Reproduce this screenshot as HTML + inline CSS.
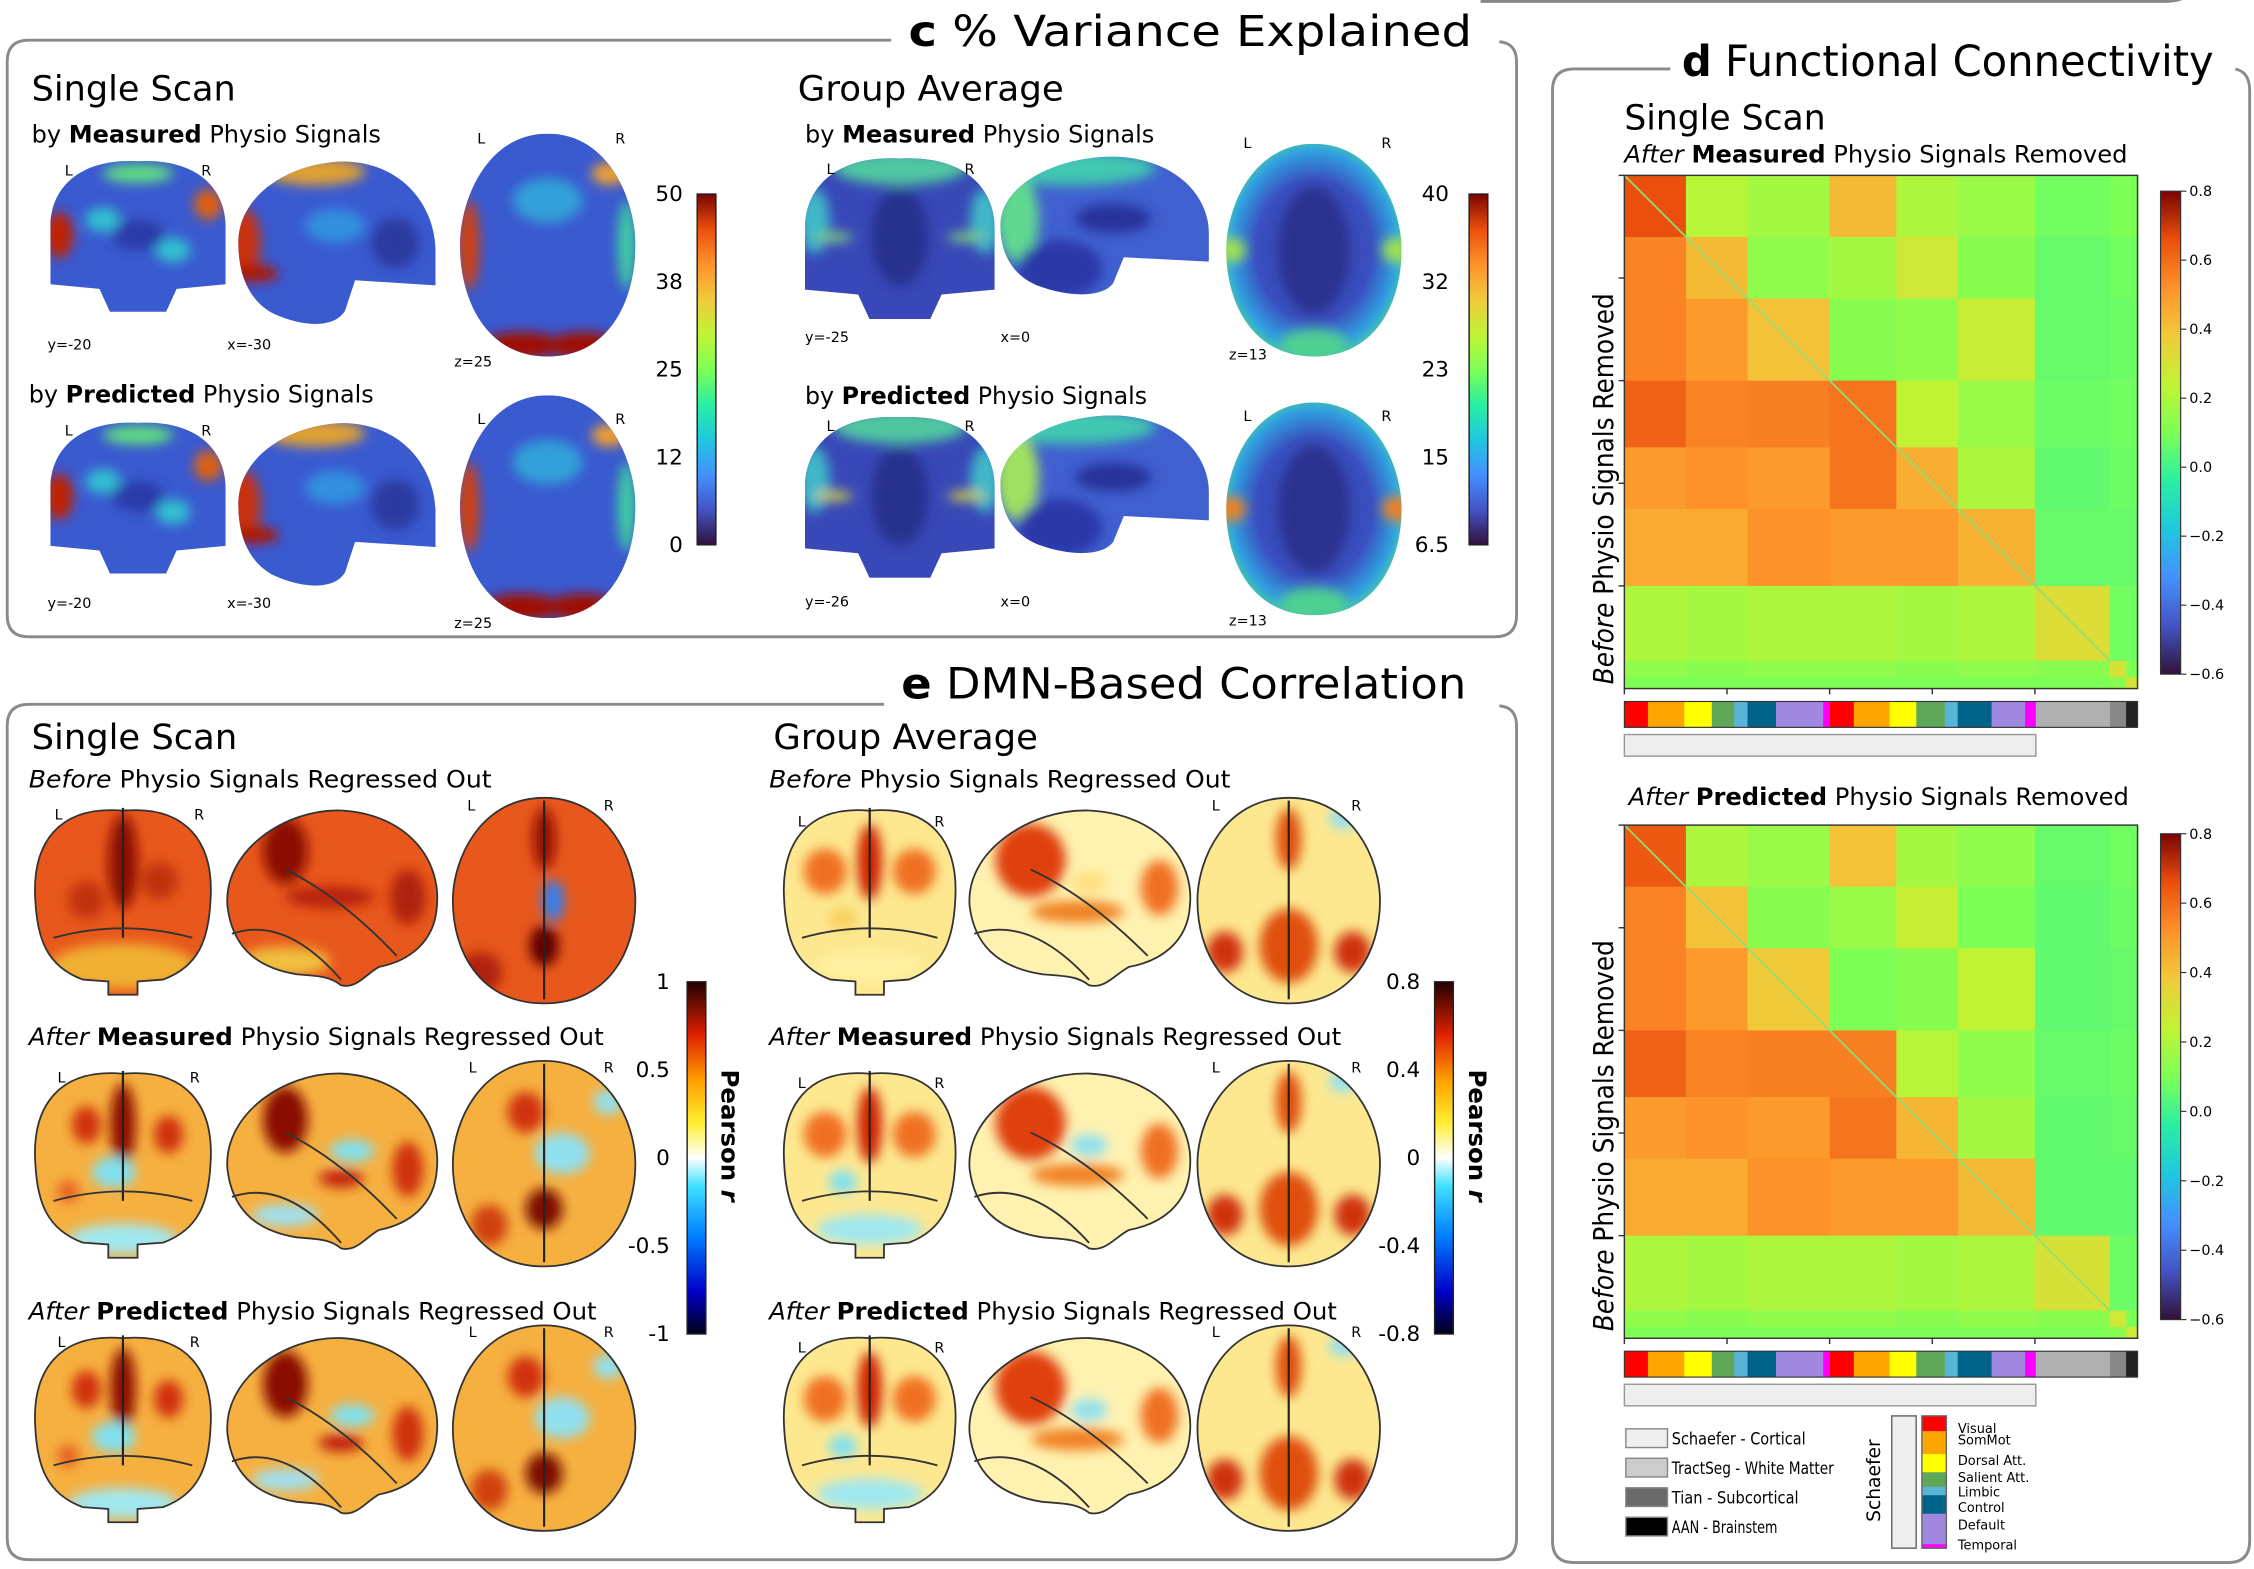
<!DOCTYPE html>
<html><head><meta charset="utf-8">
<style>
html,body{margin:0;padding:0;background:#fff;}
svg{display:block;}
text{font-family:"DejaVu Sans","Liberation Sans",sans-serif;fill:#000;}
</style></head>
<body>
<svg id="fig" xmlns="http://www.w3.org/2000/svg" width="2254" height="1569" viewBox="0 0 1568 1091.5">
<defs>
  <linearGradient id="turbo" x1="0" y1="1" x2="0" y2="0">
    <stop offset="0" stop-color="#30123b"/><stop offset="0.1" stop-color="#4454c4"/><stop offset="0.2" stop-color="#4490fe"/>
    <stop offset="0.3" stop-color="#1fc8de"/><stop offset="0.4" stop-color="#29efa2"/><stop offset="0.5" stop-color="#7eff55"/>
    <stop offset="0.6" stop-color="#c1f334"/><stop offset="0.7" stop-color="#f1ca3a"/><stop offset="0.8" stop-color="#fe922a"/>
    <stop offset="0.9" stop-color="#ea4f0d"/><stop offset="1" stop-color="#7a0403"/>
  </linearGradient>
  <linearGradient id="coldhot" x1="0" y1="1" x2="0" y2="0">
    <stop offset="0" stop-color="#000018"/><stop offset="0.12" stop-color="#0000c8"/><stop offset="0.28" stop-color="#0080ff"/>
    <stop offset="0.42" stop-color="#40e0ff"/><stop offset="0.5" stop-color="#ffffff"/><stop offset="0.6" stop-color="#ffee30"/>
    <stop offset="0.72" stop-color="#ffa000"/><stop offset="0.85" stop-color="#e02000"/><stop offset="1" stop-color="#200000"/>
  </linearGradient>
  <radialGradient id="grpavg" cx="0.5" cy="0.5" r="0.55">
    <stop offset="0" stop-color="#3340a8"/><stop offset="0.6" stop-color="#3a50c0"/><stop offset="0.85" stop-color="#30a0e0"/><stop offset="1" stop-color="#50d890"/>
  </radialGradient>
  <filter id="blur" x="-20%" y="-20%" width="140%" height="140%"><feGaussianBlur stdDeviation="4"/></filter>
</defs>

<path d="M1030 1 L1505 1 Q1520 1 1522 -5" fill="none" stroke="#888" stroke-width="2"/>

<path d="M620 28 L20 28 Q5 28 5 43 L5 428 Q5 443 20 443 L1040 443 Q1055 443 1055 428 L1055 43 Q1055 30 1043 29" fill="none" stroke="#8a8a8a" stroke-width="2"/>
<text x="632" y="32" font-size="30" textLength="392" lengthAdjust="spacingAndGlyphs"><tspan font-weight="bold">c</tspan> % Variance Explained</text>

<path d="M615 490 L20 490 Q5 490 5 505 L5 1070 Q5 1085 20 1085 L1040 1085 Q1055 1085 1055 1070 L1055 505 Q1055 492 1043 491" fill="none" stroke="#8a8a8a" stroke-width="2"/>
<text x="627" y="486" font-size="30" textLength="393" lengthAdjust="spacingAndGlyphs"><tspan font-weight="bold">e</tspan> DMN-Based Correlation</text>

<path d="M1162 48 L1095 48 Q1080 48 1080 63 L1080 1072 Q1080 1087 1095 1087 L1550 1087 Q1565 1087 1565 1072 L1565 63 Q1565 50 1555 48" fill="none" stroke="#8a8a8a" stroke-width="2"/>
<text x="1170" y="53" font-size="30" textLength="370" lengthAdjust="spacingAndGlyphs"><tspan font-weight="bold">d</tspan> Functional Connectivity</text>

<text x="22" y="70" font-size="24" textLength="142" lengthAdjust="spacingAndGlyphs">Single Scan</text>
<text x="22" y="99" font-size="17" textLength="243" lengthAdjust="spacingAndGlyphs">by <tspan font-weight="bold">Measured</tspan> Physio Signals</text>
<text x="20" y="280" font-size="17" textLength="240" lengthAdjust="spacingAndGlyphs">by <tspan font-weight="bold">Predicted</tspan> Physio Signals</text>
<text x="555" y="70" font-size="24" textLength="185" lengthAdjust="spacingAndGlyphs">Group Average</text>
<text x="560" y="99" font-size="17" textLength="243" lengthAdjust="spacingAndGlyphs">by <tspan font-weight="bold">Measured</tspan> Physio Signals</text>
<text x="560" y="281" font-size="17" textLength="238" lengthAdjust="spacingAndGlyphs">by <tspan font-weight="bold">Predicted</tspan> Physio Signals</text>

<text x="22" y="521" font-size="24" textLength="143" lengthAdjust="spacingAndGlyphs">Single Scan</text>
<text x="538" y="521" font-size="24" textLength="184" lengthAdjust="spacingAndGlyphs">Group Average</text>
<text x="20" y="548" font-size="17" textLength="322" lengthAdjust="spacingAndGlyphs"><tspan font-style="italic">Before</tspan> Physio Signals Regressed Out</text>
<text x="20" y="727" font-size="17" textLength="400" lengthAdjust="spacingAndGlyphs"><tspan font-style="italic">After</tspan> <tspan font-weight="bold">Measured</tspan> Physio Signals Regressed Out</text>
<text x="20" y="918" font-size="17" textLength="395" lengthAdjust="spacingAndGlyphs"><tspan font-style="italic">After</tspan> <tspan font-weight="bold">Predicted</tspan> Physio Signals Regressed Out</text>
<text x="535" y="548" font-size="17" textLength="321" lengthAdjust="spacingAndGlyphs"><tspan font-style="italic">Before</tspan> Physio Signals Regressed Out</text>
<text x="535" y="727" font-size="17" textLength="398" lengthAdjust="spacingAndGlyphs"><tspan font-style="italic">After</tspan> <tspan font-weight="bold">Measured</tspan> Physio Signals Regressed Out</text>
<text x="535" y="918" font-size="17" textLength="395" lengthAdjust="spacingAndGlyphs"><tspan font-style="italic">After</tspan> <tspan font-weight="bold">Predicted</tspan> Physio Signals Regressed Out</text>

<text x="1130" y="90" font-size="24" textLength="140" lengthAdjust="spacingAndGlyphs">Single Scan</text>
<text x="1130" y="113" font-size="17" textLength="350" lengthAdjust="spacingAndGlyphs"><tspan font-style="italic">After</tspan> <tspan font-weight="bold">Measured</tspan> Physio Signals Removed</text>
<text x="1133" y="560" font-size="17" textLength="348" lengthAdjust="spacingAndGlyphs"><tspan font-style="italic">After</tspan> <tspan font-weight="bold">Predicted</tspan> Physio Signals Removed</text>
<text transform="translate(1122,340) rotate(-90)" text-anchor="middle" font-size="19" textLength="272" lengthAdjust="spacingAndGlyphs"><tspan font-style="italic">Before</tspan> Physio Signals Removed</text>
<text transform="translate(1122,790) rotate(-90)" text-anchor="middle" font-size="19" textLength="272" lengthAdjust="spacingAndGlyphs"><tspan font-style="italic">Before</tspan> Physio Signals Removed</text>

<g id="brains"></g>
<g id="bars"></g>
<g id="heat"></g>
</svg>

<script>
const groupNames = ["LH-Vis-SomMot","LH-DA-Sal-Lim","LH-Cont-Def-Temp","RH-Vis-SomMot","RH-DA-Sal-Lim","RH-Cont-Def-Temp","WM-TractSeg","Tian-Subcortical","AAN-Brainstem"];
const groupSizes = [60, 60, 80, 65, 60, 75, 73, 16, 11];
// lower triangle: before removal; upper triangle: after removal
const fcMeasured = [
  [0.66, 0.22, 0.18, 0.42, 0.20, 0.16, 0.08, 0.10, 0.10],
  [0.55, 0.42, 0.14, 0.18, 0.28, 0.12, 0.06, 0.08, 0.08],
  [0.55, 0.50, 0.40, 0.12, 0.14, 0.26, 0.06, 0.07, 0.07],
  [0.62, 0.55, 0.56, 0.58, 0.24, 0.16, 0.07, 0.08, 0.08],
  [0.50, 0.52, 0.50, 0.58, 0.45, 0.20, 0.05, 0.07, 0.07],
  [0.46, 0.46, 0.52, 0.50, 0.50, 0.44, 0.06, 0.06, 0.06],
  [0.20, 0.18, 0.20, 0.20, 0.18, 0.20, 0.32, 0.08, 0.08],
  [0.14, 0.12, 0.14, 0.14, 0.12, 0.14, 0.12, 0.30, 0.10],
  [0.10, 0.10, 0.10, 0.10, 0.10, 0.10, 0.10, 0.12, 0.30]
];
const fcPredicted = [
  [0.64, 0.20, 0.16, 0.40, 0.18, 0.14, 0.06, 0.08, 0.08],
  [0.55, 0.40, 0.12, 0.16, 0.26, 0.10, 0.05, 0.07, 0.07],
  [0.55, 0.50, 0.38, 0.10, 0.12, 0.24, 0.05, 0.06, 0.06],
  [0.62, 0.55, 0.56, 0.56, 0.22, 0.14, 0.06, 0.07, 0.07],
  [0.50, 0.52, 0.50, 0.58, 0.43, 0.18, 0.05, 0.06, 0.06],
  [0.46, 0.46, 0.52, 0.50, 0.50, 0.42, 0.05, 0.05, 0.05],
  [0.20, 0.18, 0.20, 0.20, 0.18, 0.20, 0.30, 0.07, 0.07],
  [0.14, 0.12, 0.14, 0.14, 0.12, 0.14, 0.12, 0.28, 0.10],
  [0.10, 0.10, 0.10, 0.10, 0.10, 0.10, 0.10, 0.12, 0.28]
];
const fcTicks = [0.8, 0.6, 0.4, 0.2, 0.0, -0.2, -0.4, -0.6];
const fcTickLabels = ["0.8","0.6","0.4","0.2","0.0","\u22120.2","\u22120.4","\u22120.6"];
const networkNames = ["Visual","SomMot","Dorsal","Salient","Limbic","Control","Default","Temporal","Visual","SomMot","Dorsal","Salient","Limbic","Control","Default","Temporal","TractSeg","Tian","AAN"];
const networkSizes = [66,102,77,63,37,80,132,19,67,100,75,80,36,95,94,30,208,45,32];
const networkColors = ["#ff0000","#ffa500","#ffff00","#5fa85a","#5ab4d8","#00648a","#a088de","#ff00ff","#ff0000","#ffa500","#ffff00","#5fa85a","#5ab4d8","#00648a","#a088de","#ff00ff","#b0b0b0","#888888","#222222"];
const legendNets = ["Visual","SomMot","Dorsal Att.","Salient Att.","Limbic","Control","Default","Temporal"];
const legendNetSizes = [11.5,17.3,13.8,11,6.4,14,23,3];
const legendNetColors = ["#ff0000","#ffa500","#ffff00","#5fa85a","#5ab4d8","#00648a","#a088de","#ff00ff"];
const varTicksSingle = ["50","38","25","12","0"];
const varTicksGroup = ["40","32","23","15","6.5"];
const pearsonSingle = ["1","0.5","0","-0.5","-1"];
const pearsonGroup = ["0.8","0.4","0","-0.4","-0.8"];

const NS = "http://www.w3.org/2000/svg";
function mk(tag, attrs, parent){ const e=document.createElementNS(NS,tag); for(const k in attrs) e.setAttribute(k,attrs[k]); if(parent) parent.appendChild(e); return e; }

const turboStops = ["#30123b","#4454c4","#4490fe","#1fc8de","#29efa2","#7eff55","#c1f334","#f1ca3a","#fe922a","#ea4f0d","#7a0403"];
function hex(c){return [parseInt(c.substr(1,2),16),parseInt(c.substr(3,2),16),parseInt(c.substr(5,2),16)];}
function turbo(t){ t=Math.max(0,Math.min(1,t)); const p=t*10; const i=Math.min(9,Math.floor(p)); const f=p-i; const a=hex(turboStops[i]), b=hex(turboStops[i+1]);
  return "rgb("+a.map((v,k)=>Math.round(v+(b[k]-v)*f)).join(",")+")"; }

const heat = document.getElementById("heat");
function drawMatrix(M, x0, y0, size, cbY0, cbY1, idx){
  const g = mk("g",{},heat);
  
  
  const total = groupSizes.reduce((a,b)=>a+b,0);
  const sc = v => size*v/total;
  const cval = v => (v-(-0.6))/(1.4);
  let ry=0;
  for(let i=0;i<groupSizes.length;i++){
    let rx=0;
    for(let j=0;j<groupSizes.length;j++){
      const r = mk("rect",{x:x0+sc(rx),y:y0+sc(ry),width:sc(groupSizes[j])+0.5,height:sc(groupSizes[i])+0.5,fill:turbo(cval(M[i][j]))},g);
      
      
      rx+=groupSizes[j];
    }
    ry+=groupSizes[i];
  }
  const cortex = groupSizes.slice(0,6).reduce((a,b)=>a+b,0);
  const dl = mk("line",{x1:x0,y1:y0,x2:x0+sc(cortex+groupSizes[6]),y2:y0+sc(cortex+groupSizes[6]),stroke:"#8ee070","stroke-width":1.2},g);
  
  
  const fr = mk("rect",{x:x0,y:y0,width:size,height:size,fill:"none",stroke:"#333","stroke-width":1},g);
  
  
  for(let k=0;k<=4;k++){
    const t = sc(k*100);
    const a = mk("line",{x1:x0-4,y1:y0+t,x2:x0,y2:y0+t,stroke:"#333","stroke-width":1},g);
    
    
    const b = mk("line",{x1:x0+t,y1:y0+size,x2:x0+t,y2:y0+size+4,stroke:"#333","stroke-width":1},g);
    
    
  }
  const cb = mk("rect",{x:1503,y:cbY0,width:14,height:cbY1-cbY0,fill:"url(#turbo)",stroke:"#333","stroke-width":0.8},g);
  
  
  fcTicks.forEach((v,k)=>{
    const yy = cbY1 - (v+0.6)/1.4*(cbY1-cbY0);
    const tl = mk("line",{x1:1517,y1:yy,x2:1521,y2:yy,stroke:"#333","stroke-width":0.8},g);
    
    
    const tx = mk("text",{x:1523,y:yy+3.5,"font-size":10,fill:"#444"},g);
    tx.textContent = fcTickLabels[k];
    
    
  });
  const nt = networkSizes.reduce((a,b)=>a+b,0);
  let nx=0;
  const barY = y0+size+9;
  networkSizes.forEach((s,k)=>{
    const r = mk("rect",{x:x0+size*nx/nt,y:barY,width:size*s/nt+0.3,height:18,fill:networkColors[k]},g);
    
    
    nx+=s;
  });
  const nb = mk("rect",{x:x0,y:barY,width:size,height:18,fill:"none",stroke:"#333","stroke-width":0.8},g);
  
  
  const cortN = networkSizes.slice(0,16).reduce((a,b)=>a+b,0);
  const sb = mk("rect",{x:x0,y:barY+23,width:size*cortN/nt,height:15,fill:"#eeeeee",stroke:"#999","stroke-width":1},g);
  
  
}
drawMatrix(fcMeasured, 1130, 122, 357, 133, 469, 1);
drawMatrix(fcPredicted, 1130, 574, 357, 580, 918, 2);

const bars = document.getElementById("bars");
const atlasNames = ["Schaefer - Cortical","TractSeg - White Matter","Tian - Subcortical","AAN - Brainstem"];
const atlasColors = ["#eeeeee","#cccccc","#6a6a6a","#000000"];
atlasNames.forEach((n,k)=>{
  const y = 994 + k*20.5;
  const r = mk("rect",{x:1131,y:y,width:29,height:13,fill:atlasColors[k],stroke:"#888","stroke-width":1},bars);
  
  
  const t = mk("text",{x:1163,y:y+11,"font-size":12,fill:"#222",textLength:n.length*4.9,lengthAdjust:"spacingAndGlyphs"},bars);
  t.textContent=n;
  
  
});
{
  const t = mk("text",{transform:"translate(1308,1030) rotate(-90)","text-anchor":"middle","font-size":13,fill:"#222"},bars);
  t.textContent="Schaefer";
  
  
  const r = mk("rect",{x:1316,y:985,width:17,height:92,fill:"#eeeeee",stroke:"#666","stroke-width":1},bars);
  
  
  const tot = legendNetSizes.reduce((a,b)=>a+b,0);
  let acc=0;
  const lblY=[994,1002,1016,1028,1038,1049,1061,1075];
  legendNetSizes.forEach((s,k)=>{
    const rr = mk("rect",{x:1337,y:985+92*acc/tot,width:17,height:92*s/tot+0.3,fill:legendNetColors[k]},bars);
    
    
    acc+=s;
    const tt = mk("text",{x:1362,y:lblY[k]+3,"font-size":9,fill:"#222"},bars);
    tt.textContent=legendNets[k];
    
    
  });
  const fr = mk("rect",{x:1337,y:985,width:17,height:92,fill:"none",stroke:"#666","stroke-width":1},bars);
  
  
}

const brains = document.getElementById("brains");
const shapes = {
  cor: "M0.5,0.02 C0.82,0 1,0.18 1,0.45 L1,0.82 L0.72,0.85 L0.66,1 L0.34,1 L0.28,0.85 L0,0.82 L0,0.45 C0,0.18 0.18,0 0.5,0.02 Z",
  back: "M0.5,0.03 C0.85,0 1,0.2 0.98,0.5 C0.97,0.7 0.92,0.85 0.72,0.92 L0.58,0.93 L0.58,1 L0.42,1 L0.42,0.93 L0.28,0.92 C0.08,0.85 0.03,0.7 0.02,0.5 C0,0.2 0.15,0 0.5,0.03 Z",
  sag: "M0.04,0.55 C0.02,0.25 0.3,0.02 0.55,0.03 C0.85,0.05 1,0.3 0.98,0.55 C0.97,0.75 0.85,0.85 0.72,0.88 C0.66,0.92 0.62,1 0.55,0.98 C0.5,0.93 0.45,0.93 0.35,0.92 C0.15,0.88 0.06,0.75 0.04,0.55 Z",
  sagc: "M0.02,0.5 C0.02,0.2 0.3,0.02 0.55,0.02 C0.85,0.03 1,0.3 1,0.55 L1,0.75 L0.6,0.72 L0.55,0.9 C0.5,1 0.35,1 0.2,0.92 C0.08,0.85 0.02,0.7 0.02,0.5 Z",
  ax: "M0.5,0 C0.85,0 1,0.3 1,0.5 C1,0.75 0.85,1 0.5,1 C0.15,1 0,0.75 0,0.5 C0,0.3 0.15,0 0.5,0 Z"
};
let clipId=0;
function brain(name, shape, x, y, w, h, base, blobs, outline){
  const g = mk("g",{},brains);
  
  
  const id = "clip"+(clipId++);
  const cp = mk("clipPath",{id:id},g);
  mk("path",{d:shapes[shape],transform:`translate(${x},${y}) scale(${w},${h})`},cp);
  const inner = mk("g",{"clip-path":`url(#${id})`},g);
  mk("rect",{x:x,y:y,width:w,height:h,fill:base},inner);
  const bg = mk("g",{filter:"url(#blur)"},inner);
  blobs.forEach(b=>{ mk("ellipse",{cx:x+b[0]*w,cy:y+b[1]*h,rx:b[2]*w,ry:(b[3]||b[2])*h,fill:b[4]},bg); });
  if(outline){
    mk("path",{d:shapes[shape],transform:`translate(${x},${y}) scale(${w},${h})`,fill:"none",stroke:"#333","stroke-width":1.8,"vector-effect":"non-scaling-stroke"},g);
    if(shape==="ax"||shape==="back") mk("line",{x1:x+w/2,y1:y+2,x2:x+w/2,y2:y+h*(shape==="ax"?0.98:0.7),stroke:"#222","stroke-width":1.5},g);
    if(shape==="back") mk("path",{d:`M${x+w*0.12},${y+h*0.7} Q${x+w/2},${y+h*0.6} ${x+w*0.88},${y+h*0.7}`,fill:"none",stroke:"#333","stroke-width":1.3},g);
    if(shape==="sag"){ mk("path",{d:`M${x+w*0.3},${y+h*0.35} Q${x+w*0.55},${y+h*0.5} ${x+w*0.8},${y+h*0.82}`,fill:"none",stroke:"#333","stroke-width":1.3},g);
      mk("path",{d:`M${x+w*0.06},${y+h*0.7} Q${x+w*0.3},${y+h*0.6} ${x+w*0.55},${y+h*0.95}`,fill:"none",stroke:"#333","stroke-width":1.3},g);}
  }
  return g;
}
function lab(name,x,y,s,size){ const t=mk("text",{x:x,y:y,"font-size":size||10,fill:"#222"},brains); t.textContent=s;
  
   }

const hotEdge = [[0.05,0.5,0.08,0.15,"#c02000"],[0.9,0.3,0.08,0.1,"#e06010"],[0.5,0.1,0.2,0.06,"#60e080"],[0.3,0.4,0.1,0.08,"#30c0d0"],[0.7,0.6,0.1,0.08,"#30c0d0"]];
[[0,"measured"],[182,"predicted"]].forEach(([dy,nm])=>{
  brain("c-single-"+nm+"-coronal","cor",35,110+dy,122,107,"#3a5ad0",hotEdge.concat([[0.5,0.5,0.15,0.1,"#2a3aa8"]]));
  brain("c-single-"+nm+"-sagittal","sagc",163,110+dy,140,118,"#3a5ad0",[[0.05,0.5,0.08,0.2,"#c83010"],[0.1,0.68,0.12,0.05,"#b01800"],[0.4,0.08,0.25,0.08,"#e0a030"],[0.5,0.4,0.15,0.1,"#3090e0"],[0.8,0.5,0.12,0.15,"#2a3aa0"]]);
  brain("c-single-"+nm+"-axial","ax",320,93+dy,122,155,"#3a5ad0",[[0.35,0.95,0.22,0.06,"#a01000"],[0.7,0.95,0.2,0.06,"#a01000"],[0.05,0.5,0.06,0.2,"#d04010"],[0.95,0.5,0.05,0.2,"#40d0a0"],[0.5,0.3,0.2,0.1,"#30a0d8"],[0.85,0.18,0.1,0.05,"#f0a030"]]);
});
lab("label-L",45,122,"L");lab("label-R",140,122,"R");lab("label-L",332,100,"L");lab("label-R",428,100,"R");
lab("label-L",45,303,"L");lab("label-R",140,303,"R");lab("label-L",332,295,"L");lab("label-R",428,295,"R");
lab("coord-label",33,243,"y=-20");lab("coord-label",158,243,"x=-30");lab("coord-label",316,255,"z=25");
lab("coord-label",33,423,"y=-20");lab("coord-label",158,423,"x=-30");lab("coord-label",316,437,"z=25");

[[0,"measured",0],[180,"predicted",1]].forEach(([dy,nm,p])=>{
  brain("c-group-"+nm+"-coronal","cor",560,108+dy,132,114,"#3848b8",[[0.5,0.08,0.35,0.1,"#50c8a0"],[0.05,0.4,0.08,0.2,"#40b8c8"],[0.95,0.4,0.08,0.2,"#40b8c8"],[0.15,0.5,0.1,0.03,p?"#d0d040":"#80d080"],[0.85,0.5,0.1,0.03,p?"#d0d040":"#80d080"],[0.5,0.5,0.15,0.3,"#28308e"]]);
  brain("c-group-"+nm+"-sagittal","sagc",693,107+dy,148,100,"#4060d0",[[0.35,0.1,0.4,0.12,"#40c8b0"],[0.1,0.45,0.1,0.3,p?"#a0e060":"#60d890"],[0.55,0.45,0.18,0.1,"#28309a"],[0.3,0.8,0.2,0.2,"#2a38a8"]]);
  brain("c-group-"+nm+"-axial","ax",853,100+dy,122,148,"url(#grpavg)",[[0.03,0.5,0.08,0.06,p?"#f08020":"#a0e050"],[0.97,0.5,0.08,0.06,p?"#f08020":"#a0e050"],[0.5,0.95,0.2,0.08,"#50d090"],[0.5,0.5,0.2,0.3,"#2a3090"]]);
});
lab("label-L",575,121,"L");lab("label-R",671,121,"R");lab("label-L",865,103,"L");lab("label-R",961,103,"R");
lab("label-L",575,300,"L");lab("label-R",671,300,"R");lab("label-L",865,293,"L");lab("label-R",961,293,"R");
lab("coord-label",560,238,"y=-25");lab("coord-label",696,238,"x=0");lab("coord-label",855,250,"z=13");
lab("coord-label",560,422,"y=-26");lab("coord-label",696,422,"x=0");lab("coord-label",855,435,"z=13");

function vbar(name,x,y0,y1,grad,labels,lx,anchor){
  const r=mk("rect",{x:x,y:y0,width:13,height:y1-y0,fill:grad,stroke:"#222","stroke-width":1},brains);
  
  
  labels.forEach((s,k)=>{ const t=mk("text",{x:lx,y:y0+(y1-y0)*k/(labels.length-1)+5,"font-size":15,"text-anchor":anchor,fill:"#222"},brains); t.textContent=s;
    
     });
}
vbar("c-single-colorbar",485,135,379,"url(#turbo)",varTicksSingle,475,"end");
vbar("c-group-colorbar",1022,135,379,"url(#turbo)",varTicksGroup,1008,"end");
vbar("e-single-colorbar",478,683,928,"url(#coldhot)",pearsonSingle,466,"end");
vbar("e-group-colorbar",998,683,928,"url(#coldhot)",pearsonGroup,988,"end");
{
  const t1=mk("text",{transform:"translate(502,790) rotate(90)","text-anchor":"middle","font-size":17,"font-weight":"bold",fill:"#111"},brains); t1.innerHTML='Pearson <tspan font-style="italic">r</tspan>';
  
  
  const t2=mk("text",{transform:"translate(1022,790) rotate(90)","text-anchor":"middle","font-size":17,"font-weight":"bold",fill:"#111"},brains); t2.innerHTML='Pearson <tspan font-style="italic">r</tspan>';
  
  
}

const rows = [[555,"before"],[738,"measured"],[922,"predicted"]];
rows.forEach(([y,nm],k)=>{
  const sBase = k===0?"#e8581c":"#f6b040";
  const sBlobs = k===0 ? [[0.5,0.3,0.08,0.25,"#8a0800"],[0.5,0.85,0.4,0.12,"#f0b030"],[0.3,0.5,0.1,0.1,"#c03010"],[0.7,0.4,0.1,0.1,"#c03010"]]
                       : [[0.5,0.3,0.07,0.22,"#900a00"],[0.3,0.3,0.08,0.1,"#d03010"],[0.75,0.35,0.08,0.1,"#d03010"],[0.45,0.55,0.12,0.08,"#80e0f0"],[0.5,0.9,0.3,0.08,"#a0e8f0"],[0.2,0.65,0.06,0.06,"#e86020"]];
  brain("e-single-"+nm+"-back","back",22,y+5,127,132,sBase,sBlobs,true);
  brain("e-single-"+nm+"-sagittal","sag",152,y+5,155,128,sBase,k===0?[[0.3,0.25,0.1,0.18,"#8a0800"],[0.5,0.5,0.2,0.06,"#b82008"],[0.3,0.85,0.2,0.08,"#f0c040"],[0.85,0.5,0.08,0.15,"#b02008"]]:[[0.3,0.28,0.1,0.18,"#8a0800"],[0.55,0.6,0.1,0.05,"#c02008"],[0.6,0.45,0.1,0.06,"#80e0f0"],[0.3,0.8,0.15,0.06,"#a0e0f0"],[0.85,0.55,0.07,0.15,"#d03010"]],true);
  brain("e-single-"+nm+"-axial","ax",315,y,127,143,sBase,k===0?[[0.5,0.72,0.08,0.1,"#600000"],[0.5,0.2,0.06,0.15,"#901000"],[0.15,0.85,0.12,0.1,"#b02008"],[0.55,0.5,0.06,0.1,"#3080f0"]]:[[0.5,0.72,0.1,0.1,"#7a0800"],[0.4,0.25,0.1,0.1,"#d03010"],[0.6,0.45,0.15,0.1,"#90e0f0"],[0.2,0.8,0.1,0.1,"#d04010"],[0.85,0.2,0.08,0.06,"#90e0f0"]],true);
  const gBlobs = [[0.5,0.3,0.07,0.2,"#d02000"],[0.25,0.35,0.12,0.12,"#f07020"],[0.75,0.35,0.12,0.12,"#f07020"],[0.5,0.85,0.3,0.08,k===0?"#fff0a0":"#a0e8f0"],[0.35,0.6,0.08,0.06,k===0?"#f8d060":"#80e0f0"]];
  brain("e-group-"+nm+"-back","back",543,y+5,124,132,"#fde890",gBlobs,true);
  brain("e-group-"+nm+"-sagittal","sag",668,y+5,163,128,"#fff2b0",[[0.25,0.3,0.08,0.12,"#500000"],[0.3,0.3,0.15,0.2,"#e04010"],[0.5,0.58,0.2,0.06,"#f08020"],[0.85,0.45,0.08,0.15,"#f07020"],[0.55,0.42,0.08,0.06,k===0?"#ffe080":"#90e0f0"]],true);
  brain("e-group-"+nm+"-axial","ax",833,y,127,143,"#fde890",[[0.5,0.72,0.08,0.12,"#600000"],[0.5,0.72,0.16,0.18,"#e05010"],[0.15,0.75,0.1,0.1,"#d03010"],[0.85,0.75,0.1,0.1,"#d03010"],[0.5,0.2,0.07,0.15,"#e05010"],[0.8,0.1,0.08,0.05,"#90e0f0"]],true);
});
lab("label-L",38,570,"L");lab("label-R",135,570,"R");lab("label-L",325,564,"L");lab("label-R",420,564,"R");
lab("label-L",40,753,"L");lab("label-R",132,753,"R");lab("label-L",326,746,"L");lab("label-R",420,746,"R");
lab("label-L",40,937,"L");lab("label-R",132,937,"R");lab("label-L",326,930,"L");lab("label-R",420,930,"R");
lab("label-L",555,575,"L");lab("label-R",650,575,"R");lab("label-L",843,564,"L");lab("label-R",940,564,"R");
lab("label-L",555,757,"L");lab("label-R",650,757,"R");lab("label-L",843,746,"L");lab("label-R",940,746,"R");
lab("label-L",555,941,"L");lab("label-R",650,941,"R");lab("label-L",843,930,"L");lab("label-R",940,930,"R");
</script>
</body></html>
